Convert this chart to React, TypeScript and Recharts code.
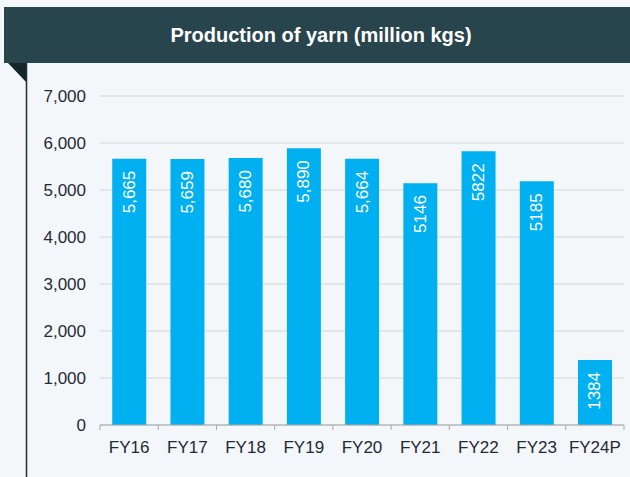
import React from "react";
import { BarChart, Bar, XAxis, YAxis, CartesianGrid, LabelList } from "recharts";

const categories = ["FY16", "FY17", "FY18", "FY19", "FY20", "FY21", "FY22", "FY23", "FY24P"];
const values = [5665, 5659, 5680, 5890, 5664, 5146, 5822, 5185, 1384];
const valueLabels = ["5,665", "5,659", "5,680", "5,890", "5,664", "5146", "5822", "5185", "1384"];
const yTicks = [0, 1000, 2000, 3000, 4000, 5000, 6000, 7000];
const title = "Production of yarn (million kgs)";

const data = categories.map((c, i) => ({ name: c, value: values[i], label: valueLabels[i] }));

const W = 630;
const H = 477;
const M = { top: 96, right: 6, bottom: 22, left: 0 };
const Y_W = 100;
const FONT = "'Liberation Sans', Arial, sans-serif";
const halfBand = (W - M.left - M.right - Y_W) / categories.length / 2;

const fmt = (v: number) => v.toLocaleString("en-US");

const XTick = (props: any) => {
  const { x, y, payload, index } = props;
  return (
    <g>
      <line x1={x - halfBand} x2={x - halfBand} y1={425} y2={430} stroke="#A6A6A6" strokeWidth={1} />
      {index === categories.length - 1 && (
        <line x1={x + halfBand} x2={x + halfBand} y1={425} y2={430} stroke="#A6A6A6" strokeWidth={1} />
      )}
      <text x={x} y={y} dy="0.71em" textAnchor="middle" fill="#1F2A36" fontSize={17} fontFamily={FONT}>
        {payload.value}
      </text>
    </g>
  );
};

const BarLabel = (props: any) => {
  const { x, y, width, value } = props;
  const cx = x + width / 2;
  const ty = y + 12;
  return (
    <text
      x={cx}
      y={ty}
      transform={`rotate(-90, ${cx}, ${ty})`}
      textAnchor="end"
      dominantBaseline="central"
      fill="#FFFFFF"
      fontSize={17}
      fontFamily={FONT}
    >
      {value}
    </text>
  );
};

export default function App() {
  return (
    <div
      style={{
        position: "absolute",
        left: 0,
        top: 0,
        width: W,
        height: H,
        background: "#F4F7F9",
        overflow: "hidden",
      }}
    >
      <div
        style={{
          position: "absolute",
          left: 4,
          top: 7,
          width: W - 4,
          height: 56,
          background: "#28454D",
          color: "#FFFFFF",
          fontFamily: FONT,
          fontWeight: "bold",
          fontSize: 20,
          lineHeight: "56px",
          textAlign: "center",
          paddingLeft: 8,
          boxSizing: "border-box",
        }}
      >
        {title}
      </div>
      <svg style={{ position: "absolute", left: 0, top: 0 }} width={W} height={H}>
        <polygon points="8,63 27,63 27,83" fill="#15262A" />
        <line x1={26.5} x2={26.5} y1={63} y2={H} stroke="#1E2F33" strokeWidth={1.5} />
      </svg>
      <div style={{ position: "absolute", left: 0, top: 0 }}>
        <BarChart width={W} height={H} data={data} margin={M} barCategoryGap="21%">
          <CartesianGrid vertical={false} stroke="#D4D4D4" strokeWidth={1} />
          <XAxis
            dataKey="name"
            stroke="#A6A6A6"
            tickLine={false}
            tick={<XTick />}
            tickSize={5}
            tickMargin={11}
            height={30}
            interval={0}
          />
          <YAxis
            domain={[0, 7000]}
            ticks={yTicks}
            width={Y_W}
            axisLine={false}
            tickLine={false}
            tickSize={6}
            tickMargin={8}
            tickFormatter={fmt}
            tick={{ fill: "#1F2A36", fontSize: 17, fontFamily: FONT }}
          />
          <Bar dataKey="value" fill="#00B0F0" isAnimationActive={false}>
            <LabelList dataKey="label" content={<BarLabel />} />
          </Bar>
        </BarChart>
      </div>
    </div>
  );
}
